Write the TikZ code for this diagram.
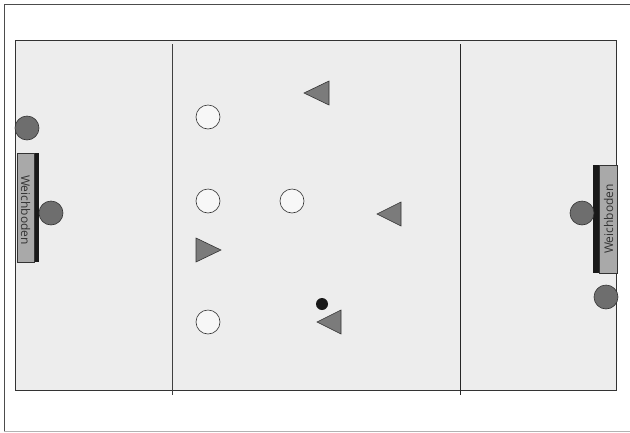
\documentclass[tikz,border=0pt]{standalone}
\usepackage{fontspec}
\setmainfont{Open Sans}
\usetikzlibrary{shapes.geometric}
\definecolor{fieldbg}{HTML}{EDEDED}
\definecolor{matgray}{HTML}{A9A9A9}
\definecolor{playergray}{HTML}{6E6E6E}
\definecolor{trigray}{HTML}{7B7B7B}
\definecolor{whiteplayer}{HTML}{F7F7F7}
\tikzset{
  grayplayer/.style={circle, draw=black!80, fill=playergray, line width=0.6pt, minimum size=24pt, inner sep=0pt},
  whiteplayerstyle/.style={circle, draw=black!80, fill=whiteplayer, line width=0.6pt, minimum size=24pt, inner sep=0pt},
  tri/.style={draw=black!80, fill=trigray, line width=0.6pt, line join=miter},
  matbox/.style={draw=black!80, fill=matgray, line width=0.6pt},
  matedge/.style={fill=black!90},
  ballstyle/.style={circle, fill=black!90, minimum size=12pt, inner sep=0pt},
  matlabel/.style={font=\fontsize{12}{14}\selectfont, text=black!80, inner sep=0pt}
}
\begin{document}
\begin{tikzpicture}[x=1pt,y=-1pt]
\useasboundingbox (0,0) rectangle (630,432);
% outer frame
\draw[black!70, line width=0.8pt] (640,4) -- (4,4) -- (4,431);
\draw[black!30, line width=0.8pt] (4,431) -- (640,431);
% field
\draw[fill=fieldbg, draw=black!80, line width=0.8pt] (15,40) rectangle (616,390);
\coordinate (l1t) at (172,44); \coordinate (l1b) at (172,395);
\coordinate (l2t) at (460,44); \coordinate (l2b) at (460,395);
\draw[black!75, line width=0.8pt] (l1t) -- (l1b);
\draw[black!85, line width=0.8pt] (l2t) -- (l2b);
% left mat
\fill[matedge] (33,153) rectangle (39,262);
\draw[matbox] (17,153) rectangle (34,262);
\node[matlabel, rotate=-90] (wl) at (25.5,210) {Weichboden};
% right mat
\fill[matedge] (593,165) rectangle (600,273);
\draw[matbox] (599,165) rectangle (617,273);
\node[matlabel, rotate=90] (wr) at (608.5,219) {Weichboden};
% gray players
\node[grayplayer] (g1) at (27,128) {};
\node[grayplayer] (g2) at (51,213) {};
\node[grayplayer] (g3) at (582,213) {};
\node[grayplayer] (g4) at (606,297) {};
% white players
\node[whiteplayerstyle] (w1) at (208,117) {};
\node[whiteplayerstyle] (w2) at (208,201) {};
\node[whiteplayerstyle] (w3) at (292,201) {};
\node[whiteplayerstyle] (w4) at (208,322) {};
% triangles
\draw[tri] (304,93) -- (329,81) -- (329,105) -- cycle;
\draw[tri] (377,214) -- (401,202) -- (401,226) -- cycle;
\draw[tri] (221,250) -- (196,238) -- (196,262) -- cycle;
\draw[tri] (317,322) -- (341,310) -- (341,334) -- cycle;
% ball
\node[ballstyle] (ball) at (322,304) {};
\end{tikzpicture}
\end{document}
